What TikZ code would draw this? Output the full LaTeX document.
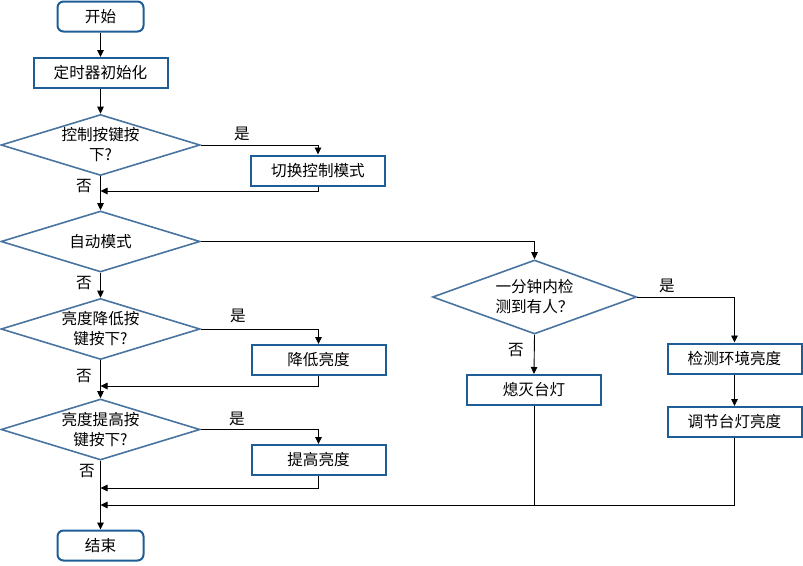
\documentclass[tikz,border=0pt]{standalone}
\usepackage{fontspec}
\setmainfont{Noto Sans CJK SC}
\usetikzlibrary{shapes.geometric,arrows.meta}
\definecolor{boxblue}{HTML}{1F5D96}
\definecolor{diablue}{HTML}{4A74A0}
\tikzset{
  every node/.style={font=\fontsize{15.6}{20}\selectfont},
  term/.style={draw=boxblue,line width=2pt,rounded corners=6pt,minimum width=86pt,minimum height=30pt,inner sep=0pt},
  proc/.style={draw=boxblue,line width=2pt,minimum width=134pt,minimum height=30pt,inner sep=0pt},
  dia/.style={diamond,draw=diablue,line width=1.6pt,minimum width=199pt,minimum height=61pt,inner sep=0pt},
  txt/.style={align=center,inner sep=0pt},
  lab/.style={inner sep=0pt},
  arr/.style={line width=0.9pt,-{Triangle[length=7pt,width=6.5pt]}},
  ln/.style={line width=0.9pt}
}
\begin{document}
\begin{tikzpicture}[x=1pt,y=-1pt]
\useasboundingbox (0,0) rectangle (803,565);
% nodes
\node[term] (start) at (100.5,16.5) {开始};
\node[proc] (init) at (100.5,73) {定时器初始化};
\node[dia] (d1) at (100.5,145) {};
\node[txt] (d1t) at (d1) {控制按键按\\下?};
\node[proc] (sw) at (318,170.5) {切换控制模式};
\node[dia] (d2) at (100.5,241.5) {};
\node[txt] (d2t) at (d2) {自动模式};
\node[dia,minimum width=204pt,minimum height=74pt] (d3) at (534.5,297) {};
\node[txt] (d3t) at (d3) {一分钟内检\\测到有人？};
\node[proc] (det) at (734.5,358.5) {检测环境亮度};
\node[proc] (adj) at (734.5,422) {调节台灯亮度};
\node[proc] (off) at (534,390) {熄灭台灯};
\node[dia] (d4) at (100.5,329) {};
\node[txt] (d4t) at (d4) {亮度降低按\\键按下?};
\node[proc] (dec) at (318.5,360) {降低亮度};
\node[dia] (d5) at (100.5,429.5) {};
\node[txt] (d5t) at (d5) {亮度提高按\\键按下?};
\node[proc] (inc) at (318.5,460) {提高亮度};
\node[term] (end) at (100.5,545.5) {结束};
% labels
\node[lab] (y1) at (242,134) {是};
\node[lab] (n1) at (84,186) {否};
\node[lab] (n2) at (84,283) {否};
\node[lab] (y3) at (667,286) {是};
\node[lab] (n3) at (516,350) {否};
\node[lab] (y4) at (238,316) {是};
\node[lab] (n4) at (84,376) {否};
\node[lab] (y5) at (237,419) {是};
\node[lab] (n5) at (87,471) {否};
% merge points
\coordinate (m1) at (100.5,191);
\coordinate (m2) at (100.5,386);
\coordinate (m3) at (100.5,488);
\coordinate (m4) at (100.5,505);
% connectors
\draw[arr] (start) -- (init);
\draw[arr] (init) -- (d1);
\draw[arr] (d1.east) -| (sw.north);
\draw[arr] (sw.south) |- (m1);
\draw[arr] (d1.south) -- (d2.north);
\draw[arr] (d2.east) -| (d3.north);
\draw[arr] (d2.south) -- (d4.north);
\draw[arr] (d3.east) -| (det.north);
\draw[arr] (det) -- (adj);
\draw[arr] (d3.south) -- (off.north);
\draw[arr] (d4.east) -| (dec.north);
\draw[arr] (dec.south) |- (m2);
\draw[arr] (d4.south) -- (d5.north);
\draw[arr] (d5.east) -| (inc.north);
\draw[arr] (inc.south) |- (m3);
\draw[arr] (d5.south) -- (end.north);
\draw[ln] (off.south) -- (off.south |- m4);
\draw[arr] (adj.south) |- (m4);
\end{tikzpicture}
\end{document}
